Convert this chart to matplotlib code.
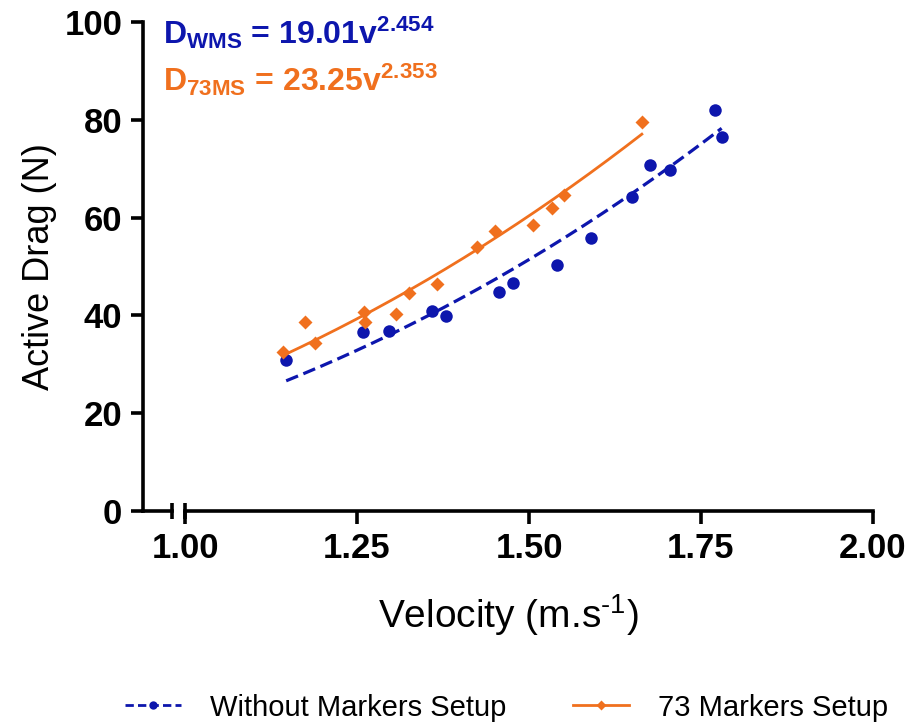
import numpy as np
import matplotlib
matplotlib.use("Agg")
import matplotlib.pyplot as plt
from matplotlib.lines import Line2D

plt.rcParams['font.family'] = ['Liberation Sans', 'DejaVu Sans']
plt.rcParams['mathtext.fontset'] = 'custom'
plt.rcParams['mathtext.rm'] = 'Liberation Sans'
plt.rcParams['mathtext.bf'] = 'Liberation Sans:bold'
plt.rcParams['mathtext.it'] = 'Liberation Sans:italic'

# without markers setup (WMS)
v_wms = [1.147, 1.259, 1.296, 1.359, 1.379, 1.456, 1.476, 1.541, 1.590,
         1.649, 1.676, 1.705, 1.770, 1.780]
d_wms = [30.9, 36.5, 36.8, 40.9, 39.9, 44.8, 46.6, 50.3, 55.9,
         64.2, 70.8, 69.7, 81.9, 76.5]

# 73 markers setup
v_73 = [1.143, 1.175, 1.189, 1.260, 1.261, 1.306, 1.325, 1.366, 1.425,
        1.451, 1.506, 1.533, 1.551, 1.664]
d_73 = [32.5, 38.6, 34.3, 40.6, 38.6, 40.2, 44.5, 46.4, 54.0,
        57.3, 58.5, 61.9, 64.6, 79.6]

# power fits printed on the chart: D = a * v^b
fit_wms = (19.01, 2.454)
fit_73 = (23.25, 2.353)

xticks = [1.00, 1.25, 1.50, 1.75, 2.00]
yticks = [0, 20, 40, 60, 80, 100]

blue = '#0d16ad'
orange = '#f0701e'

fig = plt.figure(figsize=(9.23, 7.25), dpi=100)
ax = fig.add_axes([0.1549, 0.2952, 0.7909, 0.6745])

x_left = 0.9388
ax.set_xlim(x_left, 2.0)
ax.set_ylim(0, 100)


def power_curve(v, fit):
    vv = np.linspace(min(v), max(v), 200)
    return vv, fit[0] * vv ** fit[1]


vx, vy = power_curve(v_wms, fit_wms)
ax.plot(vx, vy, color=blue, lw=2.3, ls=(0, (4, 1.8)), zorder=2)
vx, vy = power_curve(v_73, fit_73)
ax.plot(vx, vy, color=orange, lw=2.0, zorder=2)

ax.plot(v_wms, d_wms, 'o', color=blue, ms=9, mec='none', zorder=3)
ax.plot(v_73, d_73, 'D', color=orange, ms=7, mec='none', zorder=3)

# axes in the GraphPad style, x axis broken before 1.00
for s in ['top', 'right']:
    ax.spines[s].set_visible(False)
ax.spines['left'].set_linewidth(2.6)
ax.spines['bottom'].set_linewidth(2.6)
ax.spines['bottom'].set_bounds(1.0, 2.0)
ax.spines['left'].set_capstyle('projecting')

brk = 0.981
ax.plot([x_left, brk], [0, 0], color='k', lw=2.6, clip_on=False,
        solid_capstyle='projecting', zorder=5)
for bx in (brk, 1.0):
    ax.plot([bx, bx], [-1.7, 1.7], color='k', lw=2.6, clip_on=False,
            solid_capstyle='butt', zorder=5)

ax.set_xticks(xticks)
ax.set_xticklabels(['%.2f' % t for t in xticks])
ax.set_yticks(yticks)
ax.tick_params(axis='both', direction='out', length=9, width=2.6,
               labelsize=25, pad=6)
for lab in ax.get_xticklabels() + ax.get_yticklabels():
    lab.set_fontweight('bold')

ax.set_xlabel(r'Velocity (m.s$^{\text{-}1}$)', fontsize=28, labelpad=20)
ax.set_ylabel('Active Drag (N)', fontsize=26, labelpad=5)

ax.text(0.0274, 0.955, r'$\mathbf{D}_{\mathbf{WMS}}$ = 19.01v$^{\mathbf{2.454}}$',
        transform=ax.transAxes, color=blue, fontsize=23, fontweight='bold',
        va='baseline', ha='left')
ax.text(0.0274, 0.86, r'$\mathbf{D}_{\mathbf{73MS}}$ = 23.25v$^{\mathbf{2.353}}$',
        transform=ax.transAxes, color=orange, fontsize=23, fontweight='bold',
        va='baseline', ha='left')

handles = [
    Line2D([], [], color=blue, lw=2.0, ls=(0, (3, 1.5)), marker='o', ms=6,
           mec='none'),
    Line2D([], [], color=orange, lw=2.0, marker='D', ms=5, mec='none'),
]
fig.legend(handles, ['Without Markers Setup', '73 Markers Setup'],
           loc='center', bbox_to_anchor=(0.549, 0.024), ncol=2,
           frameon=False, fontsize=21, handlelength=1.9, handletextpad=1.0,
           columnspacing=2.3, numpoints=1)

fig.savefig('out.png', dpi=100)
